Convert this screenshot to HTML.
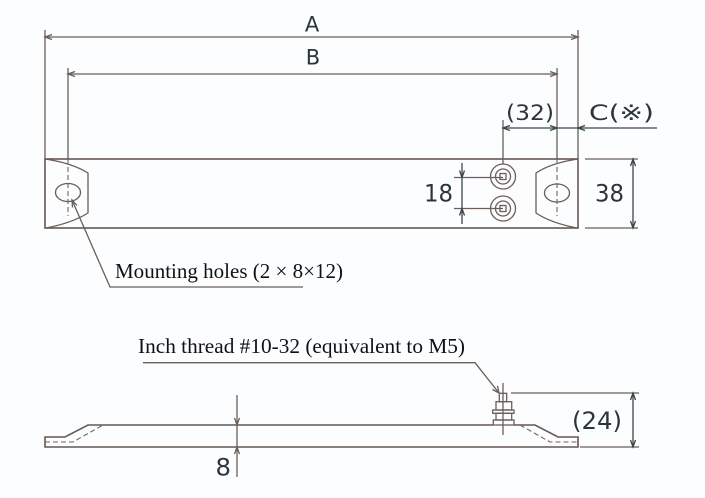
<!DOCTYPE html>
<html><head><meta charset="utf-8"><style>
html,body{margin:0;padding:0;background:#fcfdff;}
svg{display:block;}
.l{stroke:#6a5e58;stroke-width:1.3;fill:none;}
.p{stroke:#655852;stroke-width:1.6;fill:none;}
.d{stroke:#3b4747;stroke-width:1.3;fill:none;}
.ds{stroke:#6e625c;stroke-width:1.1;fill:none;stroke-dasharray:5 3;}
.s{font-family:"DejaVu Sans","Noto Sans CJK JP",sans-serif;fill:#2a3637;}
.r{font-family:"Liberation Serif","DejaVu Serif",serif;fill:#111;font-size:21px;}
</style></head><body>
<svg width="705" height="498" viewBox="0 0 705 498" xmlns="http://www.w3.org/2000/svg">
<rect width="705" height="498" fill="#fcfdff"/>

<!-- ===== TOP VIEW ===== -->
<!-- A dimension -->
<line class="l" x1="45" y1="30" x2="45" y2="159"/>
<line class="l" x1="578" y1="30" x2="578" y2="159"/>
<line class="l" x1="45" y1="37" x2="578" y2="37"/>
<polyline class="l" points="52,34.5 45,37 52,39.5"/>
<polyline class="l" points="571,34.5 578,37 571,39.5"/>
<text class="s" x="312" y="31.5" font-size="21" text-anchor="middle">A</text>

<!-- B dimension -->
<line class="l" x1="68" y1="68" x2="68" y2="159"/>
<line class="l" x1="557" y1="68" x2="557" y2="159"/>
<line class="l" x1="68" y1="74" x2="557" y2="74"/>
<polyline class="l" points="75,71.5 68,74 75,76.5"/>
<polyline class="l" points="550,71.5 557,74 550,76.5"/>
<text class="s" x="313" y="64.5" font-size="21" text-anchor="middle">B</text>

<!-- plate -->
<rect class="p" x="45" y="159" width="533" height="69"/>
<!-- end caps -->
<path class="l" d="M45,159 Q72,163 88,173 L88,213 Q72,223 46,228"/>
<path class="l" d="M578,159 Q551,163 536,173 L536,213 Q551,223 577,228"/>
<!-- holes -->
<ellipse class="l" cx="68" cy="192.5" rx="12.5" ry="9"/>
<ellipse class="l" cx="557" cy="193" rx="12.5" ry="9"/>
<line class="ds" x1="68" y1="159" x2="68" y2="216"/>
<line class="ds" x1="557" y1="159" x2="557" y2="216"/>

<!-- (32) and C dims -->
<line class="l" x1="503" y1="120" x2="503" y2="164"/>
<line class="d" x1="503" y1="128" x2="657" y2="128"/>
<polyline class="d" points="510,125.5 503,128 510,130.5"/>
<polyline class="d" points="550,125.5 557,128 550,130.5"/>
<polyline class="d" points="585,125.5 578,128 585,130.5"/>
<text class="s" x="506" y="120" font-size="21" textLength="48" lengthAdjust="spacingAndGlyphs">(32)</text>
<text class="s" x="589" y="120" font-size="21" textLength="65" lengthAdjust="spacingAndGlyphs">C(※)</text>

<!-- terminals -->
<circle class="l" cx="503" cy="176.5" r="12.5"/>
<circle class="l" cx="503" cy="176.5" r="7.5"/>
<rect class="l" x="500" y="173.5" width="6" height="6" stroke-width="1.6"/>
<circle class="l" cx="503" cy="208.5" r="12.5"/>
<circle class="l" cx="503" cy="208.5" r="7.5"/>
<rect class="l" x="500" y="205.5" width="6" height="6" stroke-width="1.6"/>

<!-- 18 dim -->
<line class="l" x1="454" y1="177.5" x2="503" y2="177.5"/>
<line class="l" x1="454" y1="208.5" x2="503" y2="208.5"/>
<line class="d" x1="462" y1="163" x2="462" y2="224"/>
<polyline class="d" points="459.5,170.5 462,177.5 464.5,170.5"/>
<polyline class="d" points="459.5,215.5 462,208.5 464.5,215.5"/>
<text class="s" x="424" y="201.5" font-size="24" textLength="29" lengthAdjust="spacingAndGlyphs">18</text>

<!-- 38 dim -->
<line class="l" x1="585" y1="159" x2="638" y2="159"/>
<line class="l" x1="585" y1="228" x2="638" y2="228"/>
<line class="d" x1="633" y1="159" x2="633" y2="228"/>
<polyline class="d" points="630.5,166 633,159 635.5,166"/>
<polyline class="d" points="630.5,221 633,228 635.5,221"/>
<text class="s" x="595" y="201.5" font-size="24" textLength="29" lengthAdjust="spacingAndGlyphs">38</text>

<!-- mounting holes leader -->
<polyline class="l" points="72,200 110,287 303,287"/>
<polyline class="l" points="72.5,207.5 72,200 77,205.5"/>
<text class="r" x="115" y="278" textLength="228" lengthAdjust="spacingAndGlyphs">Mounting holes (2 × 8×12)</text>

<!-- ===== SIDE VIEW ===== -->
<text class="r" x="138" y="353" textLength="327" lengthAdjust="spacingAndGlyphs">Inch thread #10-32 (equivalent to M5)</text>
<polyline class="l" points="143,362.7 475,362.7 499,393"/>
<polyline class="l" points="492.5,389.5 499,393 497.5,386"/>

<!-- plate profile -->
<polyline class="p" points="493,425 88,425 65,437 45,437 45,447 578,447 578,437 558,437 535,425 514,425"/>
<polyline class="ds" points="45,442 73,442 103,425"/>
<polyline class="ds" points="520,425 550,442 578,442"/>

<!-- terminal stud -->
<line class="l" x1="503" y1="383" x2="503" y2="435"/>
<rect class="l" x="493.3" y="420" width="20.7" height="5"/>
<rect class="l" x="496" y="413.3" width="15.7" height="6.7"/>
<rect class="l" x="492.7" y="410" width="21.3" height="3.3"/>
<rect class="l" x="496" y="401.7" width="15.7" height="8.3"/>
<rect class="l" x="499.3" y="393.3" width="7.4" height="8.4"/>

<!-- 24 dim -->
<line class="l" x1="511" y1="393" x2="639" y2="393"/>
<line class="l" x1="580" y1="447" x2="639" y2="447"/>
<line class="d" x1="633" y1="393" x2="633" y2="447"/>
<polyline class="d" points="630.5,400 633,393 635.5,400"/>
<polyline class="d" points="630.5,440 633,447 635.5,440"/>
<text class="s" x="572" y="429" font-size="24" textLength="50" lengthAdjust="spacingAndGlyphs">(24)</text>

<!-- 8 dim -->
<line class="l" x1="237" y1="395" x2="237" y2="477"/>
<polyline class="l" points="234.5,418 237,425 239.5,418"/>
<polyline class="l" points="234.5,454 237,447 239.5,454"/>
<text class="s" x="215.5" y="475.5" font-size="24" textLength="15.5" lengthAdjust="spacingAndGlyphs">8</text>
</svg>
</body></html>
